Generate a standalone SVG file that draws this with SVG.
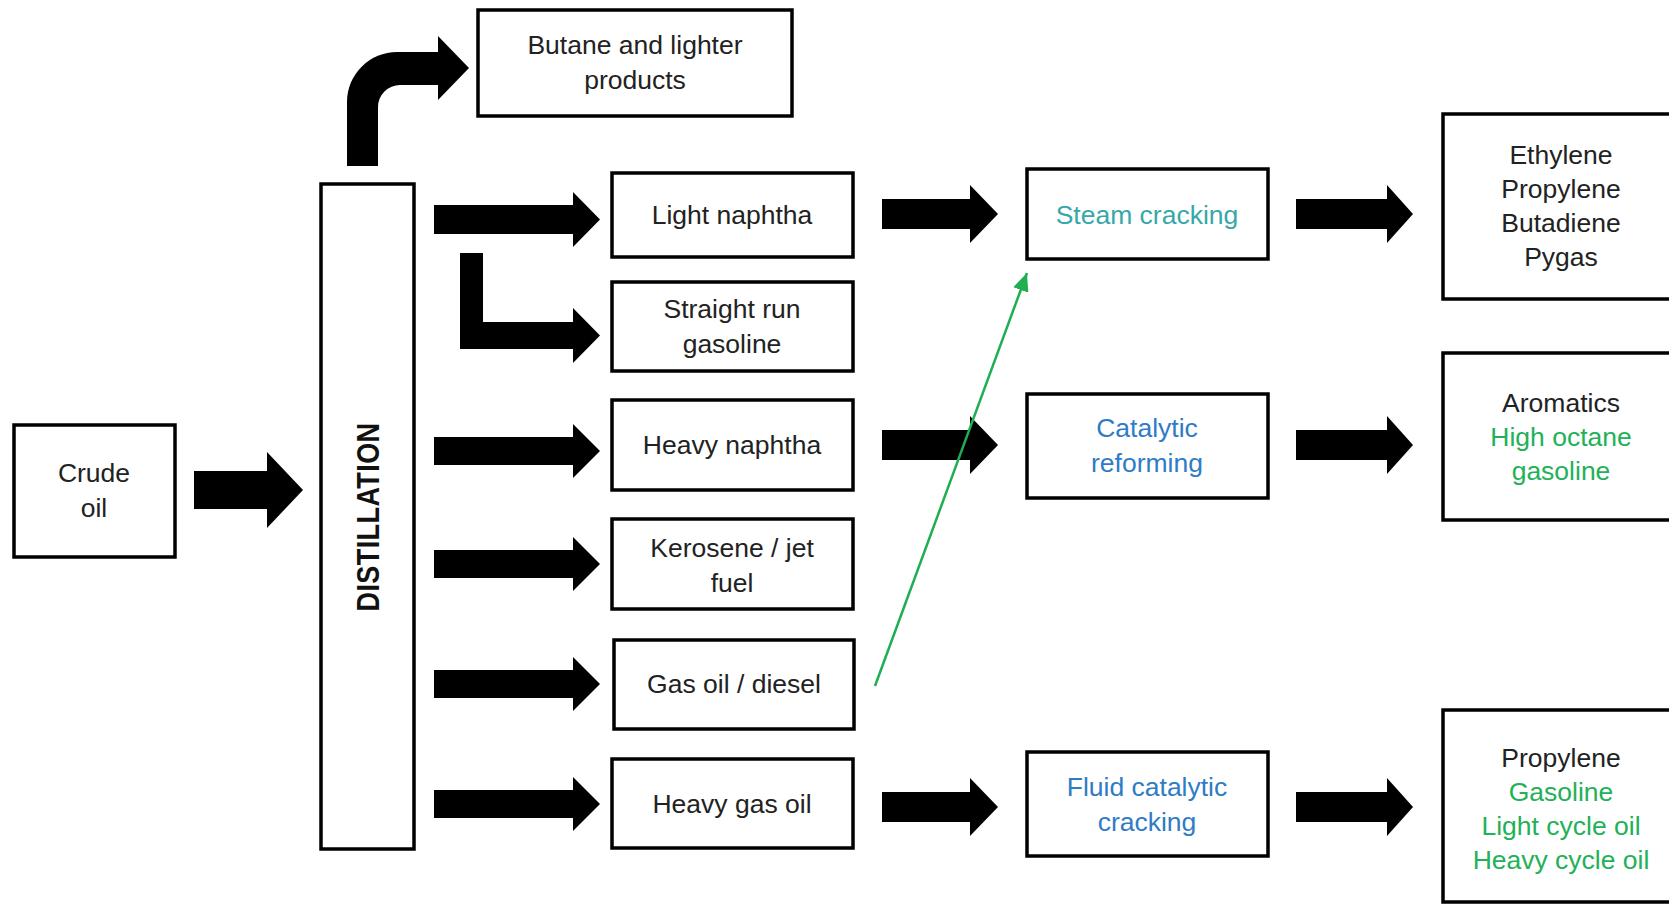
<svg xmlns="http://www.w3.org/2000/svg" width="1669" height="904" viewBox="0 0 1669 904">
  <style>
    .box { fill: #ffffff; stroke: #000000; stroke-width: 3.5; }
    .arrow { fill: #000000; stroke: none; }
    .lbl { font-family: "Liberation Sans", Arial, sans-serif; font-size: 26.5px; fill: #222222; text-anchor: middle; }
    .teal { fill: #36a8aa; }
    .blue { fill: #2f7cc5; }
    .green { fill: #22b158; }
    .col { font-family: "Liberation Sans", Arial, sans-serif; font-size: 31px; font-weight: bold; fill: #111111; text-anchor: middle; letter-spacing: 0.5px; }
  </style>
  <defs>
    <marker id="greenHead" markerUnits="userSpaceOnUse" markerWidth="20" markerHeight="16" refX="18" refY="8" orient="auto">
      <path d="M0,0 L18,8 L0,16 Z" fill="#1fae52"/>
    </marker>
  </defs>

  <rect width="1669" height="904" fill="#ffffff"/>

  <!-- feed and distillation column -->
  <g id="crude-oil">
    <rect class="box" x="14" y="425" width="161" height="132"/>
    <text class="lbl" x="94" y="482">Crude</text>
    <text class="lbl" x="94" y="517">oil</text>
  </g>
  <g id="distillation">
    <rect class="box" x="321" y="184" width="93" height="665"/>
    <text class="col" transform="translate(379,517) rotate(-90) scale(0.87,1)">DISTILLATION</text>
  </g>

  <!-- distillation cuts -->
  <g id="butane">
    <rect class="box" x="478" y="10" width="314" height="106"/>
    <text class="lbl" x="635" y="54">Butane and lighter</text>
    <text class="lbl" x="635" y="89">products</text>
  </g>
  <g id="light-naphtha">
    <rect class="box" x="612" y="173" width="241" height="84"/>
    <text class="lbl" x="732" y="224">Light naphtha</text>
  </g>
  <g id="straight-run-gasoline">
    <rect class="box" x="612" y="282" width="241" height="89"/>
    <text class="lbl" x="732" y="318">Straight run</text>
    <text class="lbl" x="732" y="353">gasoline</text>
  </g>
  <g id="heavy-naphtha">
    <rect class="box" x="612" y="400" width="241" height="90"/>
    <text class="lbl" x="732" y="454">Heavy naphtha</text>
  </g>
  <g id="kerosene">
    <rect class="box" x="612" y="519" width="241" height="90"/>
    <text class="lbl" x="732" y="557">Kerosene / jet</text>
    <text class="lbl" x="732" y="592">fuel</text>
  </g>
  <g id="gas-oil">
    <rect class="box" x="614" y="640" width="240" height="89"/>
    <text class="lbl" x="734" y="693">Gas oil / diesel</text>
  </g>
  <g id="heavy-gas-oil">
    <rect class="box" x="612" y="759" width="241" height="89"/>
    <text class="lbl" x="732" y="813">Heavy gas oil</text>
  </g>

  <!-- conversion units -->
  <g id="steam-cracking">
    <rect class="box" x="1027" y="169" width="241" height="90"/>
    <text class="lbl teal" x="1147" y="224">Steam cracking</text>
  </g>
  <g id="catalytic-reforming">
    <rect class="box" x="1027" y="394" width="241" height="104"/>
    <text class="lbl blue" x="1147" y="437">Catalytic</text>
    <text class="lbl blue" x="1147" y="472">reforming</text>
  </g>
  <g id="fluid-catalytic-cracking">
    <rect class="box" x="1027" y="752" width="241" height="104"/>
    <text class="lbl blue" x="1147" y="796">Fluid catalytic</text>
    <text class="lbl blue" x="1147" y="831">cracking</text>
  </g>

  <!-- products -->
  <g id="olefins">
    <rect class="box" x="1443" y="114" width="240" height="185"/>
    <text class="lbl" x="1561" y="164">Ethylene</text>
    <text class="lbl" x="1561" y="198">Propylene</text>
    <text class="lbl" x="1561" y="232">Butadiene</text>
    <text class="lbl" x="1561" y="266">Pygas</text>
  </g>
  <g id="reformate">
    <rect class="box" x="1443" y="353" width="240" height="167"/>
    <text class="lbl" x="1561" y="412">Aromatics</text>
    <text class="lbl green" x="1561" y="446">High octane</text>
    <text class="lbl green" x="1561" y="480">gasoline</text>
  </g>
  <g id="fcc-products">
    <rect class="box" x="1443" y="710" width="240" height="192"/>
    <text class="lbl" x="1561" y="767">Propylene</text>
    <text class="lbl green" x="1561" y="801">Gasoline</text>
    <text class="lbl green" x="1561" y="835">Light cycle oil</text>
    <text class="lbl green" x="1561" y="869">Heavy cycle oil</text>
  </g>

  <g id="connectors">
    <!-- crude to column -->
    <path class="arrow" d="M194,471 L267,471 L267,452 L303,490 L267,528 L267,509 L194,509 Z"/>
    <!-- overhead -->
    <path class="arrow" d="M347,166 L347,102 A50,50 0 0 1 397,52 L438,52 L438,36 L469,68 L438,100 L438,85 L400,85 A22,22 0 0 0 378,107 L378,166 Z"/>
    <!-- side draws -->
    <path class="arrow" d="M434,205 L573,205 L573,192 L600,219.5 L573,247 L573,234 L434,234 Z"/>
    <path class="arrow" d="M460,253 L483,253 L483,322 L573,322 L573,308 L600,335.5 L573,363 L573,349 L460,349 Z"/>
    <path class="arrow" d="M434,437 L573,437 L573,424 L600,451 L573,478 L573,465 L434,465 Z"/>
    <path class="arrow" d="M434,550 L573,550 L573,537 L600,564 L573,591 L573,578 L434,578 Z"/>
    <path class="arrow" d="M434,670 L573,670 L573,657 L600,684 L573,711 L573,698 L434,698 Z"/>
    <path class="arrow" d="M434,790 L573,790 L573,777 L600,804 L573,831 L573,818 L434,818 Z"/>
    <!-- cuts to units -->
    <path class="arrow" d="M882,199 L970,199 L970,185 L998,214 L970,243 L970,229 L882,229 Z"/>
    <path class="arrow" d="M882,430 L970,430 L970,416 L998,445 L970,474 L970,460 L882,460 Z"/>
    <path class="arrow" d="M882,792 L970,792 L970,778 L998,807 L970,836 L970,822 L882,822 Z"/>
    <!-- units to products -->
    <path class="arrow" d="M1296,199 L1387,199 L1387,185 L1413,214 L1387,243 L1387,229 L1296,229 Z"/>
    <path class="arrow" d="M1296,430 L1387,430 L1387,416 L1413,445 L1387,474 L1387,460 L1296,460 Z"/>
    <path class="arrow" d="M1296,792 L1387,792 L1387,778 L1413,807 L1387,836 L1387,822 L1296,822 Z"/>
    <!-- gas oil as cracker feed -->
    <line x1="875" y1="686" x2="1027" y2="273" stroke="#1fae52" stroke-width="2.5" marker-end="url(#greenHead)"/>
  </g>
</svg>
